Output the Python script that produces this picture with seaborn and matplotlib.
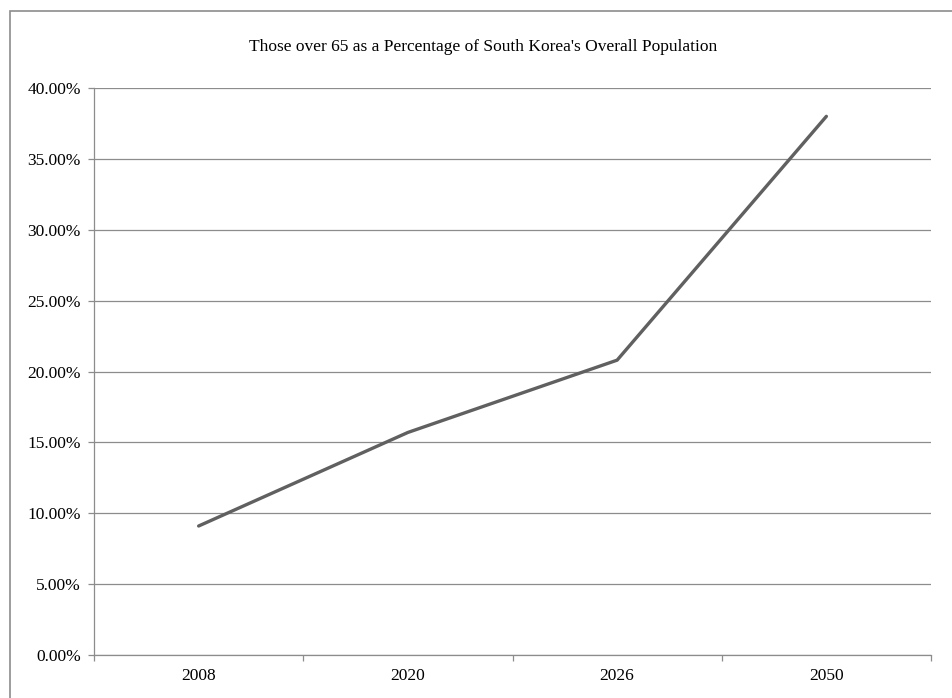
import matplotlib
matplotlib.use("Agg")
import matplotlib.pyplot as plt
import seaborn as sns
import pandas as pd
from matplotlib.ticker import FuncFormatter, FixedLocator
from matplotlib.patches import Rectangle

years  = ["2008", "2020", "2026", "2050"]
shares = [9.1, 15.7, 20.8, 38.0]
y_ticks = [0, 5, 10, 15, 20, 25, 30, 35, 40]
TITLE = "Those over 65 as a Percentage of South Korea's Overall Population"

df = pd.DataFrame({"year": years, "share": shares})

sns.set_theme(style="white")
plt.rcParams["font.family"] = ["Liberation Serif", "DejaVu Serif"]

fig = plt.figure(figsize=(9.52, 6.98), dpi=100)
ax = fig.add_axes([94 / 952, 1 - 655 / 698, (931 - 94) / 952, (655 - 88) / 698])

sns.lineplot(data=df, x="year", y="share", ax=ax, color="#606060",
             linewidth=2.4, sort=False)

ax.set_xlim(-0.5, len(years) - 0.5)
ax.set_ylim(0, 40)
ax.set_yticks(y_ticks)
ax.yaxis.set_major_formatter(FuncFormatter(lambda v, _: f"{v:.2f}%"))
ax.grid(axis="y", color="#8c8c8c", linewidth=0.9)
ax.set_axisbelow(True)

ax.xaxis.set_minor_locator(FixedLocator([i - 0.5 for i in range(len(years) + 1)]))
ax.tick_params(axis="x", which="major", length=0, pad=9, labelsize=12.5, colors="black")
ax.tick_params(axis="x", which="minor", length=4.5, width=0.9, color="#8c8c8c", direction="out", bottom=True)
ax.tick_params(axis="y", length=4.5, width=0.9, color="#8c8c8c", direction="out", left=True,
               pad=5, labelsize=12.5, labelcolor="black")

for side in ["top", "right"]:
    ax.spines[side].set_visible(False)
for side in ["left", "bottom"]:
    ax.spines[side].set_color("#8c8c8c")
    ax.spines[side].set_linewidth(0.9)

ax.set_xlabel("")
ax.set_ylabel("")

fig.text(483 / 952, 1 - 47 / 698, TITLE, ha="center", va="center", fontsize=12.5, color="black")

fig.patches.append(Rectangle((10 / 952, -0.05), 1.1, 1 - 11 / 698 + 0.05,
                             transform=fig.transFigure, fill=False,
                             edgecolor="#8c8c8c", linewidth=1.2))

fig.savefig("out.png", dpi=100)
